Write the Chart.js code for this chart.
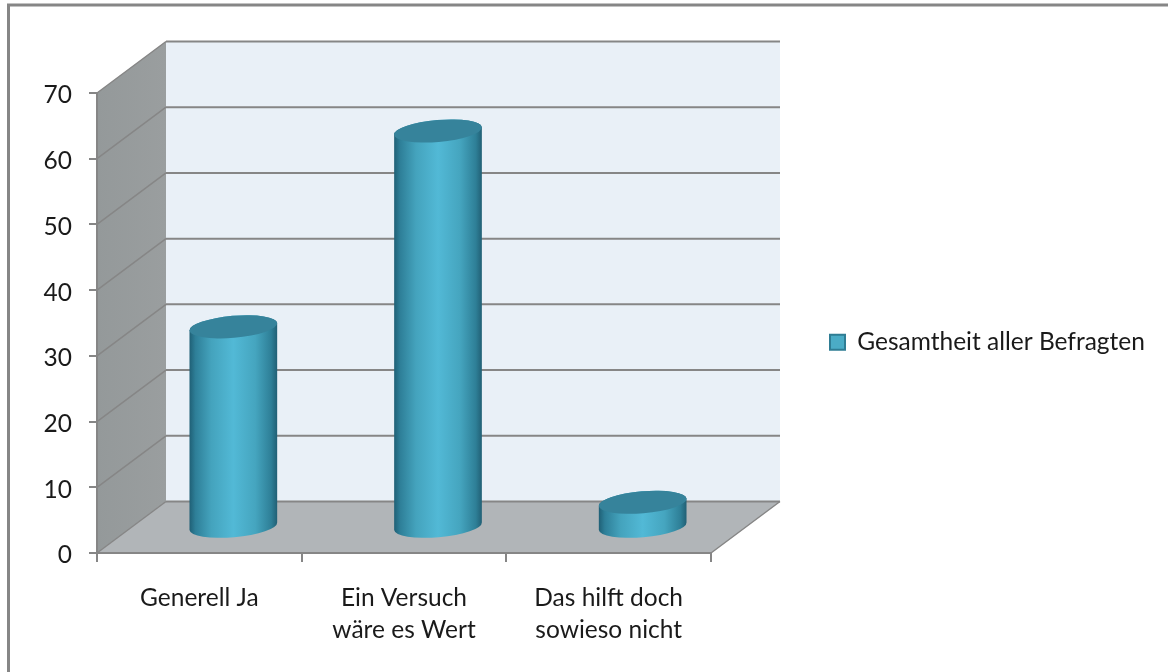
<!DOCTYPE html>
<html>
<head>
<meta charset="utf-8">
<style>
  html, body { margin: 0; padding: 0; background: #fff; }
  canvas { display: block; }
</style>
<script src="https://cdn.jsdelivr.net/npm/chart.js@4"></script>
</head>
<body>
<canvas id="chart" width="1168" height="672"></canvas>
<script>
const categories = [['Generell Ja'], ['Ein Versuch', 'wäre es Wert'], ['Das hilft doch', 'sowieso nicht']];
const seriesName = 'Gesamtheit aller Befragten';
const seriesValues = [30.5, 60.3, 3.8];
const yTicks = [0, 10, 20, 30, 40, 50, 60, 70];

const DEPTH_X = 69;
const DEPTH_Y = 51.5;
const AXIS_GREY = '#868686';
const FONT = 'Lato, "Open Sans", sans-serif';

// frame, back wall, side wall and floor, all hung off the scales
const wallsPlugin = {
  id: 'walls',
  beforeDraw(chart) {
    const { ctx, scales: { x, y } } = chart;
    const left = x.left, right = x.right;
    const top = y.getPixelForValue(70), bottom = y.getPixelForValue(0);

    ctx.save();
    // frame is only open at the bottom and right of the picture
    ctx.strokeStyle = '#868686';
    ctx.lineWidth = 3;
    ctx.beginPath();
    ctx.moveTo(8.5, 672);
    ctx.lineTo(8.5, 5);
    ctx.lineTo(1168, 5);
    ctx.stroke();

    // back wall
    ctx.fillStyle = '#e9f0f7';
    ctx.fillRect(left + DEPTH_X, top - DEPTH_Y, right - left, bottom - top);

    // side wall
    const side = ctx.createLinearGradient(left, 0, left + DEPTH_X, 0);
    side.addColorStop(0, '#94999a');
    side.addColorStop(1, '#9a9e9f');
    ctx.fillStyle = side;
    ctx.beginPath();
    ctx.moveTo(left, top);
    ctx.lineTo(left + DEPTH_X, top - DEPTH_Y);
    ctx.lineTo(left + DEPTH_X, bottom - DEPTH_Y);
    ctx.lineTo(left, bottom);
    ctx.closePath();
    ctx.fill();

    // floor
    ctx.fillStyle = '#b1b5b8';
    ctx.beginPath();
    ctx.moveTo(left, bottom);
    ctx.lineTo(left + DEPTH_X, bottom - DEPTH_Y);
    ctx.lineTo(right + DEPTH_X, bottom - DEPTH_Y);
    ctx.lineTo(right, bottom);
    ctx.closePath();
    ctx.fill();

    // gridlines across side wall and back wall
    yTicks.forEach(v => {
      const py = y.getPixelForValue(v);
      ctx.strokeStyle = AXIS_GREY;
      ctx.lineWidth = 1.5;
      if (v > 0 && v < 70) {
        ctx.beginPath();
        ctx.moveTo(left, py);
        ctx.lineTo(left + DEPTH_X, py - DEPTH_Y);
        ctx.stroke();
      }
      ctx.lineWidth = 2;
      ctx.beginPath();
      ctx.moveTo(left + DEPTH_X, py - DEPTH_Y);
      ctx.lineTo(right + DEPTH_X, py - DEPTH_Y);
      ctx.stroke();
    });

    // floor edges
    ctx.lineWidth = 1.5;
    ctx.beginPath();
    ctx.moveTo(left, bottom);
    ctx.lineTo(left + DEPTH_X, bottom - DEPTH_Y);
    ctx.moveTo(right, bottom);
    ctx.lineTo(right + DEPTH_X, bottom - DEPTH_Y);
    ctx.moveTo(left, top);
    ctx.lineTo(left + DEPTH_X, top - DEPTH_Y);
    ctx.stroke();
    ctx.restore();
  }
};

// bars come out as cylinders standing mid depth on the floor
const cylinderPlugin = {
  id: 'cylinders',
  beforeDatasetDraw(chart, args) {
    const { ctx } = chart;
    const tilt = -0.085;
    args.meta.data.forEach(bar => {
      const rx = bar.width / 2;
      const ry = 11;
      const cx = bar.x + DEPTH_X / 2 - 0.5;
      const topY = bar.y - DEPTH_Y / 2;
      const baseY = bar.base - DEPTH_Y / 2;

      const body = ctx.createLinearGradient(cx - rx, 0, cx + rx, 0);
      body.addColorStop(0, '#1f5f75');
      body.addColorStop(0.07, '#2e7f98');
      body.addColorStop(0.25, '#44a3bd');
      body.addColorStop(0.5, '#52b9d6');
      body.addColorStop(0.75, '#45a5bf');
      body.addColorStop(0.93, '#2e7f97');
      body.addColorStop(1, '#215f74');

      ctx.save();
      ctx.fillStyle = body;
      ctx.beginPath();
      ctx.ellipse(cx, baseY, rx, ry, tilt, 0, Math.PI);
      ctx.ellipse(cx, topY, rx, ry, tilt, Math.PI, 2 * Math.PI);
      ctx.closePath();
      ctx.fill();

      ctx.fillStyle = '#36839b';
      ctx.beginPath();
      ctx.ellipse(cx, topY, rx, ry, tilt, 0, 2 * Math.PI);
      ctx.fill();
      ctx.restore();
    });
    return false;
  }
};

// the legend sits well away from the plot, so place it by hand
const legendPlacePlugin = {
  id: 'legendPlace',
  afterLayout(chart) {
    const legend = chart.legend;
    const w = legend.width, h = legend.height;
    legend.left = 820;
    legend.right = legend.left + w;
    legend.top = 320;
    legend.bottom = legend.top + h;
  }
};

new Chart(document.getElementById('chart'), {
  type: 'bar',
  data: {
    labels: categories,
    datasets: [{
      label: seriesName,
      data: seriesValues,
      backgroundColor: '#4bacc6',
      borderColor: '#2f7d94',
      borderWidth: 2,
      barPercentage: 0.43,
      categoryPercentage: 1
    }]
  },
  plugins: [wallsPlugin, cylinderPlugin, legendPlacePlugin],
  options: {
    responsive: false,
    animation: false,
    layout: { padding: { top: 93, right: 457, left: 0, bottom: 0 } },
    plugins: {
      tooltip: { enabled: false },
      legend: {
        position: 'chartArea',
        align: 'start',
        labels: {
          font: { family: FONT, size: 24.5 },
          color: '#1a1a1a',
          boxWidth: 15,
          boxHeight: 15,
          padding: 10
        }
      }
    },
    scales: {
      x: {
        grid: { drawOnChartArea: false, color: AXIS_GREY, lineWidth: 2, tickLength: 9 },
        border: { color: AXIS_GREY, width: 2 },
        ticks: { font: { family: FONT, size: 24.5, lineHeight: 1.3 }, color: '#1a1a1a', padding: 20, maxRotation: 0 },
        afterFit(scale) { scale.height = 119; }
      },
      y: {
        min: 0,
        max: 70,
        grid: { drawOnChartArea: false, color: AXIS_GREY, lineWidth: 2, tickLength: 8 },
        border: { color: AXIS_GREY, width: 2 },
        ticks: {
          stepSize: 10,
          labelOffset: 2.5,
          font: { family: FONT, size: 24.5 },
          color: '#1a1a1a',
          padding: 17
        },
        afterFit(scale) { scale.width = 97; }
      }
    }
  }
});
</script>
</body>
</html>
